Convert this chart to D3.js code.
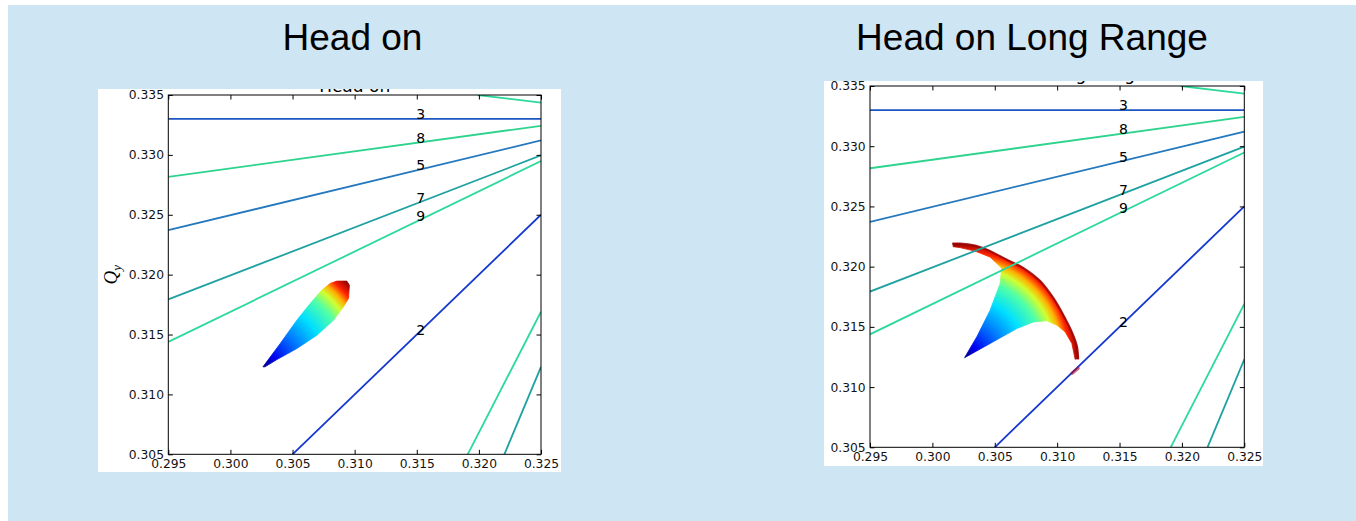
<!DOCTYPE html>
<html>
<head>
<meta charset="utf-8">
<script src="https://cdn.jsdelivr.net/npm/d3@7"></script>
<style>
  html, body { margin: 0; padding: 0; background: #fff; }
  svg { display: block; }
</style>
</head>
<body>
<svg id="chart"></svg>
<script>
// ---- Tune-diagram data ----------------------------------------------------
const qxTicks = [0.295, 0.300, 0.305, 0.310, 0.315, 0.320, 0.325];
const qyTicks = [0.305, 0.310, 0.315, 0.320, 0.325, 0.330, 0.335];

// Resonance lines m*Qx + n*Qy = p: order and end points in tune space
const resOrder = [9, 3, 8, 5, 7, 9, 2, 9, 7];
const resQx0 = [0.3199, 0.295, 0.295, 0.295, 0.295, 0.295, 0.305, 0.3191, 0.32205];
const resQy0 = [0.335, 0.333, 0.32817, 0.32372, 0.31793, 0.31438, 0.305, 0.305, 0.305];
const resQx1 = [0.325, 0.325, 0.325, 0.325, 0.325, 0.325, 0.325, 0.325, 0.325];
const resQy1 = [0.33436, 0.333, 0.33243, 0.33121, 0.32996, 0.32948, 0.325, 0.3169, 0.3123];
const resLabel = ["", "3", "8", "5", "7", "9", "2", "", ""];
const labelQx = 0.315;

// Footprint outline, head-on collisions only (first point = small-amplitude tip)
const headOnQx = [0.30262, 0.30401, 0.30535, 0.30642, 0.30736, 0.30803, 0.30857, 0.30937,
                  0.30958, 0.30950, 0.30910, 0.30830, 0.30696, 0.30535, 0.30374, 0.30278];
const headOnQy = [0.31230, 0.31425, 0.31620, 0.31759, 0.31871, 0.31927, 0.31946, 0.31946,
                  0.31912, 0.31801, 0.31731, 0.31620, 0.31494, 0.31383, 0.31291, 0.31230];

// Footprint outline, head-on plus long-range collisions
const longRangeQx = [0.30258, 0.30356, 0.30463, 0.30543, 0.30555, 0.30463, 0.30342, 0.30222,
                     0.30166, 0.30166, 0.30222, 0.30342, 0.30438, 0.30597, 0.30730, 0.30864,
                     0.30970, 0.31050, 0.31118, 0.31158, 0.31168, 0.31144, 0.31118, 0.31064,
                     0.30998, 0.30917, 0.30810, 0.30677, 0.30463];
const longRangeQy = [0.31244, 0.31417, 0.31639, 0.31860, 0.31988, 0.32079, 0.32129, 0.32158,
                     0.32166, 0.32191, 0.32191, 0.32174, 0.32141, 0.32058, 0.31988, 0.31880,
                     0.31738, 0.31597, 0.31456, 0.31339, 0.31237, 0.31231, 0.31362, 0.31458,
                     0.31514, 0.31550, 0.31541, 0.31486, 0.31362];
// Large-amplitude rim of the long-range footprint
const longRangeRimQx = [0.30166, 0.30222, 0.30342, 0.30438, 0.30597, 0.30730, 0.30864,
                        0.30970, 0.31050, 0.31118, 0.31158, 0.31168];
const longRangeRimQy = [0.32191, 0.32191, 0.32174, 0.32141, 0.32058, 0.31988, 0.31880,
                        0.31738, 0.31597, 0.31456, 0.31339, 0.31237];
// Few particles sitting on the coupling line
const strayQx = [0.31120, 0.31168];
const strayQy = [0.31115, 0.31157];

// ---- Styles ----------------------------------------------------------------
const orderColor = { 2: "#1538cf", 3: "#1d56c2", 5: "#2478bd", 7: "#1fa1a2", 8: "#2ed38e", 9: "#2bd99b" };
const jetStops = [
  [0.00, "#00007f"], [0.12, "#0000f0"], [0.33, "#0078ff"], [0.53, "#00e0ff"],
  [0.70, "#50ffa8"], [0.80, "#d0ff30"], [0.86, "#ffb000"], [0.92, "#ff2000"], [1.00, "#8b0000"]
];

const panels = [
  { title: "Head on", titleX: 352.5, box: [98, 89, 561, 472], plot: [168.3, 95, 541, 454.3],
    innerTitleY: 91.5, yLabel: true, fpQx: headOnQx, fpQy: headOnQy, rimQx: null, rimQy: null, stray: false },
  { title: "Head on Long Range", titleX: 1032, box: [824, 81, 1263, 466], plot: [870, 86, 1244.3, 447.3],
    innerTitleY: 80, yLabel: false, fpQx: longRangeQx, fpQy: longRangeQy, rimQx: longRangeRimQx, rimQy: longRangeRimQy, stray: true }
];

// ---- Drawing -------------------------------------------------------------
const W = 1356, H = 521;
const svg = d3.select("#chart").attr("width", W).attr("height", H);
const defs = svg.append("defs");

svg.append("rect").attr("width", W).attr("height", H).attr("fill", "#ffffff");
svg.append("rect").attr("x", 8).attr("y", 5).attr("width", W - 8).attr("height", H - 5).attr("fill", "#cee5f3");

const tickFont = "'DejaVu Sans', sans-serif";

panels.forEach((p, i) => {
  const [bx0, by0, bx1, by1] = p.box;
  const [px0, py0, px1, py1] = p.plot;

  // Slide title
  svg.append("text")
    .attr("x", p.titleX).attr("y", 50)
    .attr("text-anchor", "middle")
    .attr("font-family", "'Liberation Sans', Arial, sans-serif")
    .attr("font-size", 37).attr("fill", "#000")
    .text(p.title);

  const g = svg.append("g");
  g.append("rect").attr("x", bx0).attr("y", by0).attr("width", bx1 - bx0).attr("height", by1 - by0).attr("fill", "#fff");

  defs.append("clipPath").attr("id", `box-clip-${i}`).append("rect")
    .attr("x", bx0).attr("y", by0).attr("width", bx1 - bx0).attr("height", by1 - by0);
  defs.append("clipPath").attr("id", `plot-clip-${i}`).append("rect")
    .attr("x", px0).attr("y", py0).attr("width", px1 - px0).attr("height", py1 - py0);

  const x = d3.scaleLinear().domain([0.295, 0.325]).range([px0, px1]);
  const y = d3.scaleLinear().domain([0.305, 0.335]).range([py1, py0]);

  // Axes title, cut off by the image border
  g.append("text")
    .attr("clip-path", `url(#box-clip-${i})`)
    .attr("x", (px0 + px1) / 2).attr("y", p.innerTitleY)
    .attr("text-anchor", "middle")
    .attr("font-family", tickFont).attr("font-size", 17).attr("fill", "#000")
    .text(p.title);

  const plotG = g.append("g").attr("clip-path", `url(#plot-clip-${i})`);

  // Tune footprint coloured by amplitude (radial from the small-amplitude tip)
  const pts = p.fpQx.map((qx, k) => [x(qx), y(p.fpQy[k])]);
  const tip = pts[0];
  const r = d3.max(pts, q => Math.hypot(q[0] - tip[0], q[1] - tip[1]));
  const grad = defs.append("radialGradient").attr("id", `jet-${i}`)
    .attr("gradientUnits", "userSpaceOnUse")
    .attr("cx", tip[0]).attr("cy", tip[1]).attr("fx", tip[0]).attr("fy", tip[1]).attr("r", r);
  jetStops.forEach(s => grad.append("stop").attr("offset", s[0]).attr("stop-color", s[1]));

  plotG.append("path")
    .attr("d", d3.line().curve(d3.curveLinearClosed)(pts))
    .attr("fill", `url(#jet-${i})`)
    .attr("stroke", `url(#jet-${i})`).attr("stroke-width", 0.8);

  if (p.rimQx) {
    const rim = p.rimQx.map((qx, k) => [x(qx), y(p.rimQy[k])]);
    plotG.append("path")
      .attr("d", d3.line().curve(d3.curveCatmullRom)(rim))
      .attr("fill", "none").attr("stroke", "#9a0000")
      .attr("stroke-width", 2.2).attr("stroke-linecap", "round").attr("opacity", 0.85);
  }

  // Resonance lines
  resOrder.forEach((ord, k) => {
    plotG.append("line")
      .attr("x1", x(resQx0[k])).attr("y1", y(resQy0[k]))
      .attr("x2", x(resQx1[k])).attr("y2", y(resQy1[k]))
      .attr("stroke", orderColor[ord]).attr("stroke-width", 1.8);
  });

  if (p.stray) {
    plotG.append("line")
      .attr("x1", x(strayQx[0])).attr("y1", y(strayQy[0]))
      .attr("x2", x(strayQx[1])).attr("y2", y(strayQy[1]))
      .attr("stroke", "#b00020").attr("stroke-width", 3.2)
      .attr("stroke-linecap", "round").attr("opacity", 0.6);
  }

  // Order labels on the lines at Qx = labelQx
  resLabel.forEach((lab, k) => {
    if (!lab) return;
    const t = (labelQx - resQx0[k]) / (resQx1[k] - resQx0[k]);
    const qy = resQy0[k] + t * (resQy1[k] - resQy0[k]);
    g.append("text")
      .attr("x", x(labelQx) - 0.5).attr("y", y(qy))
      .attr("font-family", tickFont).attr("font-size", 14).attr("fill", "#000")
      .text(lab);
  });

  // Axes with inward ticks on all four sides
  const fmt = d3.format(".3f");
  const styleAxis = sel => {
    sel.attr("font-family", tickFont).attr("font-size", 12.3);
    sel.select(".domain").remove();
    sel.selectAll(".tick line").attr("stroke", "#000").attr("stroke-width", 1);
    sel.selectAll(".tick text").attr("fill", "#111");
  };
  g.append("g").attr("transform", `translate(0,${py1})`)
    .call(d3.axisBottom(x).tickValues(qxTicks).tickFormat(fmt).tickSizeInner(-4.5).tickSizeOuter(0).tickPadding(5.2))
    .call(styleAxis);
  g.append("g").attr("transform", `translate(${px0},0)`)
    .call(d3.axisLeft(y).tickValues(qyTicks).tickFormat(fmt).tickSizeInner(-4.5).tickSizeOuter(0).tickPadding(4.3))
    .call(styleAxis);
  g.append("g").attr("transform", `translate(0,${py0})`)
    .call(d3.axisTop(x).tickValues(qxTicks).tickFormat("").tickSizeInner(-4.5).tickSizeOuter(0))
    .call(styleAxis);
  g.append("g").attr("transform", `translate(${px1},0)`)
    .call(d3.axisRight(y).tickValues(qyTicks).tickFormat("").tickSizeInner(-4.5).tickSizeOuter(0))
    .call(styleAxis);

  g.append("rect")
    .attr("x", px0).attr("y", py0).attr("width", px1 - px0).attr("height", py1 - py0)
    .attr("fill", "none").attr("stroke", "#000").attr("stroke-width", 1);

  if (p.yLabel) {
    const lab = g.append("text")
      .attr("transform", `translate(117,${(py0 + py1) / 2}) rotate(-90)`)
      .attr("text-anchor", "middle")
      .attr("font-family", "'Liberation Serif', 'DejaVu Serif', serif")
      .attr("font-size", 19).attr("fill", "#000");
    lab.append("tspan").attr("font-style", "italic").text("Q");
    lab.append("tspan").attr("font-style", "italic").attr("font-size", 13).attr("dy", 4).text("y");
  }
});
</script>
</body>
</html>
